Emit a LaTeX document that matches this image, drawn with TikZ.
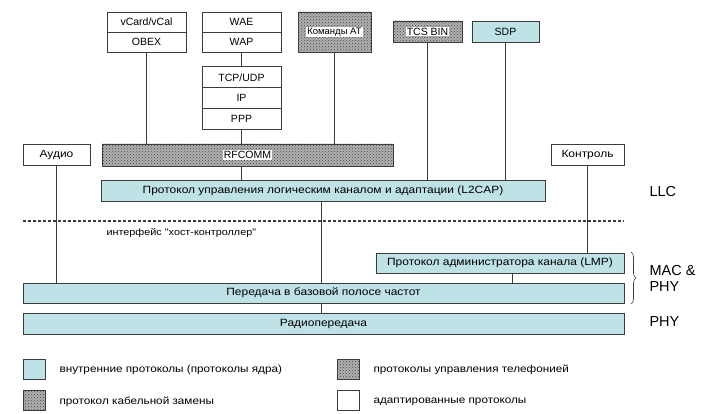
\documentclass[tikz,border=0pt]{standalone}
\usepackage{fontspec}
\setmainfont{Liberation Sans}
\newfontfamily\cyrwide[FakeStretch=1.14]{Liberation Sans}
\usepackage{tikz}
\usetikzlibrary{patterns, decorations.pathreplacing}
\definecolor{coreblue}{HTML}{BEE2E6}
\definecolor{edgegray}{HTML}{3C3C3C}
\newcommand{\onwhite}[1]{{\setlength{\fboxsep}{1pt}\colorbox{white}{#1}}}

\begin{document}
\begin{tikzpicture}[
  x=1pt, y=-1pt, font=\fontsize{10.5}{12}\selectfont,
  base/.style={draw=edgegray, line width=0.9pt, inner sep=0pt, align=center},
  core/.style={base, fill=coreblue},
  hatched/.style={base, preaction={fill=gray!62}, pattern=crosshatch dots,
                  pattern color=gray!55!black},
  adapted/.style={base, fill=white},
  wide/.style={font=\cyrwide\fontsize{10.5}{12}\selectfont},
  link/.style={draw=edgegray, line width=0.9pt},
  layer/.style={font=\fontsize{14.5}{16}\selectfont, anchor=west, align=left},
  keybox/.style={minimum width=22, minimum height=20},
  legtext/.style={font=\cyrwide\fontsize{10.3}{12}\selectfont, anchor=west}
]
\useasboundingbox (0,0) rectangle (703,414);

% upper protocols
\node[adapted, minimum width=79, minimum height=20] (vcard) at (146.5,22)  {vCard/vCal};
\node[adapted, minimum width=79, minimum height=20] (obex)  at (146.5,42)  {OBEX};
\node[adapted, minimum width=79, minimum height=20] (wae)   at (241.5,22)  {WAE};
\node[adapted, minimum width=79, minimum height=20] (wap)   at (241.5,42)  {WAP};
\node[adapted, minimum width=79, minimum height=20.7] (tcp) at (241.5,77.3) {TCP/UDP};
\node[adapted, minimum width=79, minimum height=20.7] (ip)  at (241.5,98)   {IP};
\node[adapted, minimum width=79, minimum height=20.7] (ppp) at (241.5,118.7) {PPP};
\node[hatched, minimum width=73, minimum height=40,
      font=\fontsize{9.5}{11}\selectfont] (atcmd) at (334.5,32) {\onwhite{Команды AT}};
\node[hatched, minimum width=69, minimum height=21] (tcs)   at (427.5,31.5) {\onwhite{TCS BIN}};
\node[core,    minimum width=67, minimum height=21] (sdp)   at (505.5,31.5) {SDP};

% middle lane
\node[adapted, wide, minimum width=67,  minimum height=21] (audio)  at (56.5,154.5)  {Аудио};
\node[hatched, minimum width=291, minimum height=22] (rfcomm) at (247.5,155)   {\onwhite{RFCOMM}};
\node[adapted, wide, minimum width=73,  minimum height=21] (ctrl)   at (587.5,154.5) {Контроль};
\node[core, wide, minimum width=444, minimum height=21] (l2cap)  at (323,190.5)
  {Протокол управления логическим каналом и адаптации (L2CAP)};

% host-controller interface
\draw[edgegray, line width=1.3pt, dash pattern=on 3pt off 2pt] (23,221) -- (624,221);
\node[anchor=west, font=\cyrwide\fontsize{9.5}{11}\selectfont] (hci) at (103,233) {интерфейс "хост-контроллер"};

% lower layers
\node[core, wide, minimum width=248, minimum height=20] (lmp)      at (500,263)    {Протокол администратора канала (LMP)};
\node[core, wide, minimum width=601, minimum height=20] (baseband) at (323.5,293)  {Передача в базовой полосе частот};
\node[core, wide, minimum width=601, minimum height=21] (radio)    at (323.5,323.5) {Радиопередача};

% links
\draw[link] (obex.south) -- (obex.south |- rfcomm.north);
\draw[link] (wap.south) -- (tcp.north);
\draw[link] (ppp.south) -- (ppp.south |- rfcomm.north);
\draw[link] (atcmd.south) -- (atcmd.south |- rfcomm.north);
\draw[link] (ppp.south |- rfcomm.south) -- (ppp.south |- l2cap.north);
\draw[link] (tcs.south) -- (tcs.south |- l2cap.north);
\draw[link] (sdp.south) -- (sdp.south |- l2cap.north);
\draw[link] (ctrl.south) -- (ctrl.south |- lmp.north);
\draw[link] (audio.south) -- (audio.south |- baseband.north);
\draw[link] ([xshift=-2]l2cap.south) -- ([xshift=-2]l2cap.south |- baseband.north);
\draw[link] ([xshift=12]lmp.south) -- ([xshift=12]lmp.south |- baseband.north);
\draw[link] ([xshift=-2]baseband.south) -- ([xshift=-2]baseband.south |- radio.north);

% layer names
\draw[edgegray, line width=0.6pt, decorate, decoration={brace, amplitude=5pt}]
  (631,252) -- (631,304);
\node[layer] (llc) at (646,192) {LLC};
\node[layer] (mac) at (646,278) {MAC \&\\PHY};
\node[layer] (phy) at (646,322) {PHY};

% legend
\node[core,    keybox] (kcore)  at (34,369)      {};
\node[hatched, keybox] (ktel)   at (348.5,369)   {};
\node[hatched, keybox] (kcable) at (34,400.5)    {};
\node[adapted, keybox] (kadapt) at (348.5,400.5) {};
\node[legtext] at (56,370)    {внутренние протоколы (протоколы ядра)};
\node[legtext] at (370,370)   {протоколы управления телефонией};
\node[legtext] at (56,401.5)  {протокол кабельной замены};
\node[legtext] at (370,401.5) {адаптированные протоколы};
\end{tikzpicture}
\end{document}
